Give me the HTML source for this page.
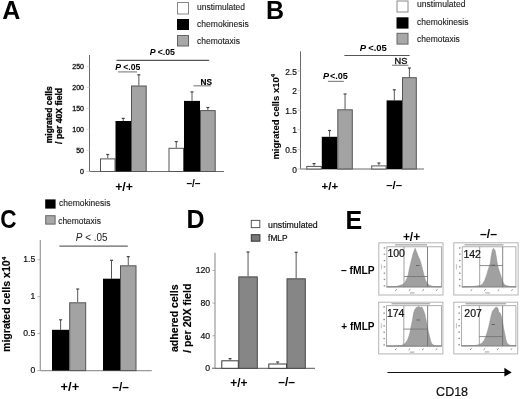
<!DOCTYPE html>
<html><head><meta charset="utf-8"><style>
html,body{margin:0;padding:0;background:#fff;}
svg{display:block;font-family:"Liberation Sans", sans-serif;will-change:transform;filter:blur(0.3px);}
</style></head><body>
<svg width="520" height="399" viewBox="0 0 520 399" font-family='"Liberation Sans", sans-serif'>
<rect width="520" height="399" fill="#fff"/>
<text x="2.2" y="18.8" font-size="25" font-weight="bold" text-anchor="start" fill="#000" >A</text>
<rect x="177.5" y="2.5" width="11" height="11.5" fill="#fff" stroke="#888" stroke-width="1"/>
<rect x="177" y="19" width="12" height="11" fill="#000"/>
<rect x="177.5" y="35.5" width="11" height="10.5" fill="#a8a8a8" stroke="#666" stroke-width="1"/>
<text x="197" y="9.8" font-size="8.5" font-weight="normal" text-anchor="start" fill="#1a1a1a" stroke="#1a1a1a" stroke-width="0.12" textLength="48" lengthAdjust="spacingAndGlyphs" >unstimulated</text>
<text x="197" y="26.7" font-size="8.5" font-weight="normal" text-anchor="start" fill="#1a1a1a" stroke="#1a1a1a" stroke-width="0.12" textLength="51.8" lengthAdjust="spacingAndGlyphs" >chemokinesis</text>
<text x="197" y="43.7" font-size="8.5" font-weight="normal" text-anchor="start" fill="#1a1a1a" stroke="#1a1a1a" stroke-width="0.12" textLength="43" lengthAdjust="spacingAndGlyphs" >chemotaxis</text>
<line x1="89.5" y1="55" x2="89.5" y2="171.5" stroke="#6a6a6a" stroke-width="1"/>
<line x1="89.5" y1="171.5" x2="224" y2="171.5" stroke="#6a6a6a" stroke-width="1"/>
<line x1="86.5" y1="171.5" x2="89.5" y2="171.5" stroke="#ccc" stroke-width="0.8"/>
<text x="84" y="174.0" font-size="7" font-weight="normal" text-anchor="end" fill="#111" stroke="#111" stroke-width="0.3" >0</text>
<line x1="86.5" y1="150.5" x2="89.5" y2="150.5" stroke="#ccc" stroke-width="0.8"/>
<text x="84" y="153.0" font-size="7" font-weight="normal" text-anchor="end" fill="#111" stroke="#111" stroke-width="0.3" >50</text>
<line x1="86.5" y1="129.5" x2="89.5" y2="129.5" stroke="#ccc" stroke-width="0.8"/>
<text x="84" y="132.0" font-size="7" font-weight="normal" text-anchor="end" fill="#111" stroke="#111" stroke-width="0.3" >100</text>
<line x1="86.5" y1="108.5" x2="89.5" y2="108.5" stroke="#ccc" stroke-width="0.8"/>
<text x="84" y="111.0" font-size="7" font-weight="normal" text-anchor="end" fill="#111" stroke="#111" stroke-width="0.3" >150</text>
<line x1="86.5" y1="87.5" x2="89.5" y2="87.5" stroke="#ccc" stroke-width="0.8"/>
<text x="84" y="90.0" font-size="7" font-weight="normal" text-anchor="end" fill="#111" stroke="#111" stroke-width="0.3" >200</text>
<line x1="86.5" y1="66.5" x2="89.5" y2="66.5" stroke="#ccc" stroke-width="0.8"/>
<text x="84" y="69.0" font-size="7" font-weight="normal" text-anchor="end" fill="#111" stroke="#111" stroke-width="0.3" >250</text>
<line x1="107.75" y1="158.4" x2="107.75" y2="154.5" stroke="#444" stroke-width="0.9"/>
<line x1="106.25" y1="154.5" x2="109.25" y2="154.5" stroke="#444" stroke-width="1.2"/>
<rect x="100.5" y="158.9" width="14.5" height="12.599999999999994" fill="#fff" stroke="#555" stroke-width="1"/>
<line x1="123.25" y1="121" x2="123.25" y2="118.4" stroke="#444" stroke-width="0.9"/>
<line x1="121.75" y1="118.4" x2="124.75" y2="118.4" stroke="#444" stroke-width="1.2"/>
<rect x="115.5" y="121" width="15.5" height="50.5" fill="#000"/>
<line x1="138.85" y1="85.5" x2="138.85" y2="74.8" stroke="#444" stroke-width="0.9"/>
<line x1="137.35" y1="74.8" x2="140.35" y2="74.8" stroke="#444" stroke-width="1.2"/>
<rect x="131.5" y="86.0" width="14.699999999999989" height="85.5" fill="#a3a3a3" stroke="#555" stroke-width="1"/>
<line x1="176.25" y1="147.8" x2="176.25" y2="141.6" stroke="#444" stroke-width="0.9"/>
<line x1="174.75" y1="141.6" x2="177.75" y2="141.6" stroke="#444" stroke-width="1.2"/>
<rect x="169.0" y="148.3" width="14.5" height="23.19999999999999" fill="#fff" stroke="#555" stroke-width="1"/>
<line x1="192.0" y1="100.9" x2="192.0" y2="91.9" stroke="#444" stroke-width="0.9"/>
<line x1="190.5" y1="91.9" x2="193.5" y2="91.9" stroke="#444" stroke-width="1.2"/>
<rect x="184.0" y="100.9" width="16.0" height="70.6" fill="#000"/>
<line x1="207.85" y1="110.1" x2="207.85" y2="107.5" stroke="#444" stroke-width="0.9"/>
<line x1="206.35" y1="107.5" x2="209.35" y2="107.5" stroke="#444" stroke-width="1.2"/>
<rect x="200.5" y="110.6" width="14.699999999999989" height="60.900000000000006" fill="#a3a3a3" stroke="#555" stroke-width="1"/>
<text x="115.3" y="69.7" font-size="8.5" font-weight="bold" textLength="25" lengthAdjust="spacingAndGlyphs"><tspan font-style="italic">P</tspan><tspan dx="2">&lt;.05</tspan></text>
<line x1="118" y1="71.9" x2="137" y2="71.9" stroke="#888" stroke-width="1.2"/>
<line x1="116.5" y1="60.3" x2="209.2" y2="60.3" stroke="#555" stroke-width="1.2"/>
<text x="149.8" y="55" font-size="8.5" font-weight="bold" textLength="25.2" lengthAdjust="spacingAndGlyphs"><tspan font-style="italic">P</tspan><tspan dx="2">&lt;.05</tspan></text>
<text x="200.5" y="84.6" font-size="8.7" font-weight="bold" text-anchor="start" fill="#000" stroke="#000" stroke-width="0.15" textLength="11.5" lengthAdjust="spacingAndGlyphs" >NS</text>
<line x1="193.5" y1="85.8" x2="210.8" y2="85.8" stroke="#888" stroke-width="1.2"/>
<text x="115.2" y="190.6" font-size="12" font-weight="bold" text-anchor="start" fill="#000" textLength="17.8" lengthAdjust="spacingAndGlyphs" >+/+</text>
<text x="186.4" y="186.6" font-size="10" font-weight="bold" text-anchor="start" fill="#000" textLength="14.1" lengthAdjust="spacingAndGlyphs" >–/–</text>
<text x="52.2" y="143.2" font-size="8.5" font-weight="bold" text-anchor="start" fill="#000" stroke="#000" stroke-width="0.3" textLength="56.8" lengthAdjust="spacingAndGlyphs" transform="rotate(-90 52.2 143.2)" >migrated cells</text>
<text x="62" y="143.9" font-size="8.5" font-weight="bold" text-anchor="start" fill="#000" stroke="#000" stroke-width="0.3" textLength="56" lengthAdjust="spacingAndGlyphs" transform="rotate(-90 62 143.9)" >/ per 40X field</text>
<text x="266" y="18.8" font-size="25" font-weight="bold" text-anchor="start" fill="#000" >B</text>
<rect x="397" y="1" width="11" height="11" fill="#fff" stroke="#8a8a8a" stroke-width="1"/>
<rect x="396.5" y="17.3" width="12" height="11.3" fill="#000"/>
<rect x="397" y="33.3" width="11" height="10.8" fill="#a8a8a8" stroke="#666" stroke-width="1"/>
<text x="417" y="7.3" font-size="8.5" font-weight="normal" text-anchor="start" fill="#1a1a1a" stroke="#1a1a1a" stroke-width="0.12" textLength="48.5" lengthAdjust="spacingAndGlyphs" >unstimulated</text>
<text x="417" y="24.6" font-size="8.5" font-weight="normal" text-anchor="start" fill="#1a1a1a" stroke="#1a1a1a" stroke-width="0.12" textLength="51.4" lengthAdjust="spacingAndGlyphs" >chemokinesis</text>
<text x="417" y="41.5" font-size="8.5" font-weight="normal" text-anchor="start" fill="#1a1a1a" stroke="#1a1a1a" stroke-width="0.12" textLength="42.8" lengthAdjust="spacingAndGlyphs" >chemotaxis</text>
<line x1="300.5" y1="51.3" x2="300.5" y2="169" stroke="#6a6a6a" stroke-width="1"/>
<line x1="300.5" y1="169" x2="424" y2="169" stroke="#6a6a6a" stroke-width="1"/>
<line x1="297.5" y1="169.0" x2="300.5" y2="169.0" stroke="#bbb" stroke-width="0.8"/>
<text x="296.8" y="172.6" font-size="8.4" font-weight="normal" text-anchor="end" fill="#111" stroke="#111" stroke-width="0.2" >0</text>
<line x1="297.5" y1="149.4" x2="300.5" y2="149.4" stroke="#bbb" stroke-width="0.8"/>
<text x="296.8" y="153.0" font-size="8.4" font-weight="normal" text-anchor="end" fill="#111" stroke="#111" stroke-width="0.2" >0.5</text>
<line x1="297.5" y1="129.8" x2="300.5" y2="129.8" stroke="#bbb" stroke-width="0.8"/>
<text x="296.8" y="133.4" font-size="8.4" font-weight="normal" text-anchor="end" fill="#111" stroke="#111" stroke-width="0.2" >1</text>
<line x1="297.5" y1="110.19999999999999" x2="300.5" y2="110.19999999999999" stroke="#bbb" stroke-width="0.8"/>
<text x="296.8" y="113.79999999999998" font-size="8.4" font-weight="normal" text-anchor="end" fill="#111" stroke="#111" stroke-width="0.2" >1.5</text>
<line x1="297.5" y1="90.6" x2="300.5" y2="90.6" stroke="#bbb" stroke-width="0.8"/>
<text x="296.8" y="94.19999999999999" font-size="8.4" font-weight="normal" text-anchor="end" fill="#111" stroke="#111" stroke-width="0.2" >2</text>
<line x1="297.5" y1="71.0" x2="300.5" y2="71.0" stroke="#bbb" stroke-width="0.8"/>
<text x="296.8" y="74.6" font-size="8.4" font-weight="normal" text-anchor="end" fill="#111" stroke="#111" stroke-width="0.2" >2.5</text>
<line x1="314.05" y1="165.9" x2="314.05" y2="163.6" stroke="#444" stroke-width="0.9"/>
<line x1="312.55" y1="163.6" x2="315.55" y2="163.6" stroke="#444" stroke-width="1.2"/>
<rect x="306.8" y="166.4" width="14.5" height="2.5999999999999943" fill="#fff" stroke="#555" stroke-width="1"/>
<line x1="329.55" y1="136.8" x2="329.55" y2="130.5" stroke="#444" stroke-width="0.9"/>
<line x1="328.05" y1="130.5" x2="331.05" y2="130.5" stroke="#444" stroke-width="1.2"/>
<rect x="321.8" y="136.8" width="15.5" height="32.19999999999999" fill="#000"/>
<line x1="345.05" y1="109.3" x2="345.05" y2="94" stroke="#444" stroke-width="0.9"/>
<line x1="343.55" y1="94" x2="346.55" y2="94" stroke="#444" stroke-width="1.2"/>
<rect x="337.8" y="109.8" width="14.5" height="59.2" fill="#a3a3a3" stroke="#555" stroke-width="1"/>
<line x1="378.9" y1="165.4" x2="378.9" y2="163" stroke="#444" stroke-width="0.9"/>
<line x1="377.4" y1="163" x2="380.4" y2="163" stroke="#444" stroke-width="1.2"/>
<rect x="371.7" y="165.9" width="14.399999999999977" height="3.0999999999999943" fill="#fff" stroke="#555" stroke-width="1"/>
<line x1="394.29999999999995" y1="100.4" x2="394.29999999999995" y2="89.8" stroke="#444" stroke-width="0.9"/>
<line x1="392.79999999999995" y1="89.8" x2="395.79999999999995" y2="89.8" stroke="#444" stroke-width="1.2"/>
<rect x="386.59999999999997" y="100.4" width="15.400000000000034" height="68.6" fill="#000"/>
<line x1="409.4" y1="77.2" x2="409.4" y2="68" stroke="#444" stroke-width="0.9"/>
<line x1="407.9" y1="68" x2="410.9" y2="68" stroke="#444" stroke-width="1.2"/>
<rect x="402.5" y="77.7" width="13.800000000000011" height="91.3" fill="#a3a3a3" stroke="#555" stroke-width="1"/>
<text x="323" y="78.8" font-size="8.5" font-weight="bold" textLength="24.9" lengthAdjust="spacingAndGlyphs"><tspan font-style="italic">P</tspan><tspan dx="0.8">&lt;.05</tspan></text>
<line x1="327.9" y1="81.4" x2="343.8" y2="81.4" stroke="#888" stroke-width="1.2"/>
<line x1="344.4" y1="55.5" x2="409.6" y2="55.5" stroke="#555" stroke-width="1.2"/>
<text x="359.8" y="51.2" font-size="9.3" font-weight="bold" textLength="27.1" lengthAdjust="spacingAndGlyphs"><tspan font-style="italic">P</tspan><tspan dx="2">&lt;.05</tspan></text>
<text x="394.6" y="63.8" font-size="8.7" font-weight="normal" text-anchor="start" fill="#111" stroke="#111" stroke-width="0.35" textLength="12.8" lengthAdjust="spacingAndGlyphs" >NS</text>
<line x1="392" y1="65.3" x2="408.4" y2="65.3" stroke="#888" stroke-width="1.2"/>
<text x="321.6" y="190.2" font-size="11.2" font-weight="bold" text-anchor="start" fill="#000" textLength="16.6" lengthAdjust="spacingAndGlyphs" >+/+</text>
<text x="386.2" y="188.5" font-size="10.5" font-weight="bold" text-anchor="start" fill="#000" textLength="15.8" lengthAdjust="spacingAndGlyphs" >–/–</text>
<text x="278.6" y="159.6" font-size="9" font-weight="bold" stroke="#000" stroke-width="0.1" textLength="85.6" lengthAdjust="spacingAndGlyphs" transform="rotate(-90 278.6 159.6)">migrated cells x10<tspan font-size="5.5" dy="-3.8">4</tspan></text>
<text x="0.3" y="228.2" font-size="25" font-weight="bold" text-anchor="start" fill="#000" textLength="16.3" lengthAdjust="spacingAndGlyphs" >C</text>
<rect x="45.2" y="199.4" width="10.4" height="9.2" fill="#000"/>
<rect x="45.7" y="215.7" width="9.4" height="8.4" fill="#a8a8a8" stroke="#666" stroke-width="1"/>
<text x="59" y="206" font-size="8.5" font-weight="normal" text-anchor="start" fill="#1a1a1a" stroke="#1a1a1a" stroke-width="0.12" textLength="51.4" lengthAdjust="spacingAndGlyphs" >chemokinesis</text>
<text x="58.2" y="223.8" font-size="8.5" font-weight="normal" text-anchor="start" fill="#1a1a1a" stroke="#1a1a1a" stroke-width="0.12" textLength="42.7" lengthAdjust="spacingAndGlyphs" >chemotaxis</text>
<text x="75.8" y="240.6" font-size="10.5" fill="#222" textLength="31.7" lengthAdjust="spacingAndGlyphs"><tspan font-style="italic">P</tspan> &lt; .05</text>
<line x1="59.4" y1="246.2" x2="127.8" y2="246.2" stroke="#666" stroke-width="1.2"/>
<line x1="40.3" y1="240" x2="40.3" y2="370.6" stroke="#999" stroke-width="1.2"/>
<line x1="40.3" y1="370.6" x2="151.8" y2="370.6" stroke="#999" stroke-width="1.2"/>
<line x1="37.5" y1="370.6" x2="40.3" y2="370.6" stroke="#999" stroke-width="0.8"/>
<text x="35.2" y="373.20000000000005" font-size="8.6" font-weight="normal" text-anchor="end" fill="#111" stroke="#111" stroke-width="0.2" >0</text>
<line x1="37.5" y1="333.65000000000003" x2="40.3" y2="333.65000000000003" stroke="#999" stroke-width="0.8"/>
<text x="35.2" y="336.25000000000006" font-size="8.6" font-weight="normal" text-anchor="end" fill="#111" stroke="#111" stroke-width="0.2" >0.5</text>
<line x1="37.5" y1="296.70000000000005" x2="40.3" y2="296.70000000000005" stroke="#999" stroke-width="0.8"/>
<text x="35.2" y="299.30000000000007" font-size="8.6" font-weight="normal" text-anchor="end" fill="#111" stroke="#111" stroke-width="0.2" >1</text>
<line x1="37.5" y1="259.75" x2="40.3" y2="259.75" stroke="#999" stroke-width="0.8"/>
<text x="35.2" y="262.35" font-size="8.6" font-weight="normal" text-anchor="end" fill="#111" stroke="#111" stroke-width="0.2" >1.5</text>
<line x1="60.6" y1="329.8" x2="60.6" y2="319.8" stroke="#444" stroke-width="0.9"/>
<line x1="59.1" y1="319.8" x2="62.1" y2="319.8" stroke="#444" stroke-width="1.2"/>
<rect x="52" y="329.8" width="17.200000000000003" height="40.80000000000001" fill="#000"/>
<line x1="77.7" y1="302.3" x2="77.7" y2="289" stroke="#444" stroke-width="0.9"/>
<line x1="76.2" y1="289" x2="79.2" y2="289" stroke="#444" stroke-width="1.2"/>
<rect x="69.7" y="302.8" width="16.0" height="67.80000000000001" fill="#a3a3a3" stroke="#555" stroke-width="1"/>
<line x1="111.5" y1="278.7" x2="111.5" y2="260.3" stroke="#444" stroke-width="0.9"/>
<line x1="110.0" y1="260.3" x2="113.0" y2="260.3" stroke="#444" stroke-width="1.2"/>
<rect x="103" y="278.7" width="17" height="91.90000000000003" fill="#000"/>
<line x1="128.25" y1="265.3" x2="128.25" y2="256.6" stroke="#444" stroke-width="0.9"/>
<line x1="126.75" y1="256.6" x2="129.75" y2="256.6" stroke="#444" stroke-width="1.2"/>
<rect x="120.5" y="265.8" width="15.5" height="104.80000000000001" fill="#a3a3a3" stroke="#555" stroke-width="1"/>
<text x="60.6" y="390.9" font-size="12" font-weight="bold" text-anchor="start" fill="#000" textLength="18.6" lengthAdjust="spacingAndGlyphs" >+/+</text>
<text x="112.3" y="390.5" font-size="12" font-weight="bold" text-anchor="start" fill="#000" textLength="16.5" lengthAdjust="spacingAndGlyphs" >–/–</text>
<text x="10" y="352" font-size="10" font-weight="bold" stroke="#000" stroke-width="0.15" textLength="95.2" lengthAdjust="spacingAndGlyphs" transform="rotate(-90 10 352)">migrated cells x10<tspan font-size="6" dy="-4.3">4</tspan></text>
<text x="186.6" y="228" font-size="25" font-weight="bold" text-anchor="start" fill="#000" >D</text>
<rect x="251.3" y="220.4" width="8.5" height="7.2" fill="#fff" stroke="#555" stroke-width="1"/>
<rect x="251.3" y="234.7" width="8.6" height="6.5" fill="#777" stroke="#333" stroke-width="1"/>
<text x="268.1" y="227.7" font-size="9" font-weight="normal" text-anchor="start" fill="#111" stroke="#111" stroke-width="0.2" textLength="49.6" lengthAdjust="spacingAndGlyphs" >unstimulated</text>
<text x="268.1" y="240.5" font-size="9" font-weight="normal" text-anchor="start" fill="#111" stroke="#111" stroke-width="0.2" textLength="19.4" lengthAdjust="spacingAndGlyphs" >fMLP</text>
<line x1="215" y1="252.8" x2="215" y2="368.3" stroke="#999" stroke-width="1.2"/>
<line x1="212" y1="368.3" x2="315" y2="368.3" stroke="#777" stroke-width="1.2"/>
<line x1="212.5" y1="368.3" x2="215" y2="368.3" stroke="#999" stroke-width="0.8"/>
<text x="210.2" y="371.2" font-size="8.7" font-weight="normal" text-anchor="end" fill="#111" stroke="#111" stroke-width="0.2" >0</text>
<line x1="212.5" y1="335.70000000000005" x2="215" y2="335.70000000000005" stroke="#999" stroke-width="0.8"/>
<text x="210.2" y="338.6" font-size="8.7" font-weight="normal" text-anchor="end" fill="#111" stroke="#111" stroke-width="0.2" >40</text>
<line x1="212.5" y1="303.1" x2="215" y2="303.1" stroke="#999" stroke-width="0.8"/>
<text x="210.2" y="306.0" font-size="8.7" font-weight="normal" text-anchor="end" fill="#111" stroke="#111" stroke-width="0.2" >80</text>
<line x1="212.5" y1="270.5" x2="215" y2="270.5" stroke="#999" stroke-width="0.8"/>
<text x="210.2" y="273.4" font-size="8.7" font-weight="normal" text-anchor="end" fill="#111" stroke="#111" stroke-width="0.2" >120</text>
<line x1="230.05" y1="360.3" x2="230.05" y2="358.6" stroke="#444" stroke-width="0.9"/>
<line x1="228.55" y1="358.6" x2="231.55" y2="358.6" stroke="#444" stroke-width="1.2"/>
<rect x="221.8" y="360.8" width="16.5" height="7.5" fill="#fff" stroke="#3a3a3a" stroke-width="1"/>
<line x1="248.05" y1="276.4" x2="248.05" y2="252" stroke="#444" stroke-width="0.9"/>
<line x1="246.55" y1="252" x2="249.55" y2="252" stroke="#444" stroke-width="1.2"/>
<rect x="238.8" y="276.9" width="18.5" height="91.40000000000003" fill="#868686" stroke="#484848" stroke-width="1"/>
<line x1="277.65" y1="363.5" x2="277.65" y2="362" stroke="#444" stroke-width="0.9"/>
<line x1="276.15" y1="362" x2="279.15" y2="362" stroke="#444" stroke-width="1.2"/>
<rect x="268.8" y="364.0" width="17.69999999999999" height="4.300000000000011" fill="#fff" stroke="#3a3a3a" stroke-width="1"/>
<line x1="296.15" y1="278.3" x2="296.15" y2="252.3" stroke="#444" stroke-width="0.9"/>
<line x1="294.65" y1="252.3" x2="297.65" y2="252.3" stroke="#444" stroke-width="1.2"/>
<rect x="287" y="278.8" width="18.30000000000001" height="89.5" fill="#868686" stroke="#484848" stroke-width="1"/>
<text x="230.2" y="386.8" font-size="12" font-weight="bold" text-anchor="start" fill="#000" textLength="17.3" lengthAdjust="spacingAndGlyphs" >+/+</text>
<text x="278.2" y="385.8" font-size="12" font-weight="bold" text-anchor="start" fill="#000" textLength="16.8" lengthAdjust="spacingAndGlyphs" >–/–</text>
<text x="177.6" y="352" font-size="10" font-weight="bold" text-anchor="start" fill="#000" stroke="#000" stroke-width="0.15" textLength="67.6" lengthAdjust="spacingAndGlyphs" transform="rotate(-90 177.6 352)" >adhered cells</text>
<text x="190.7" y="352.8" font-size="10" font-weight="bold" text-anchor="start" fill="#000" stroke="#000" stroke-width="0.15" textLength="69.3" lengthAdjust="spacingAndGlyphs" transform="rotate(-90 190.7 352.8)" >/ per 20X field</text>
<text x="345.5" y="228.8" font-size="25" font-weight="bold" text-anchor="start" fill="#000" >E</text>
<text x="402.9" y="241.1" font-size="12" font-weight="bold" text-anchor="start" fill="#000" textLength="17.3" lengthAdjust="spacingAndGlyphs" >+/+</text>
<text x="480" y="238" font-size="12" font-weight="bold" text-anchor="start" fill="#000" textLength="17" lengthAdjust="spacingAndGlyphs" >–/–</text>
<text x="341" y="273.8" font-size="10" font-weight="bold" text-anchor="start" fill="#000" textLength="33.6" lengthAdjust="spacingAndGlyphs" >– fMLP</text>
<text x="341.3" y="329.7" font-size="10" font-weight="bold" text-anchor="start" fill="#000" textLength="33.3" lengthAdjust="spacingAndGlyphs" >+ fMLP</text>
<rect x="378.8" y="242.8" width="64.19999999999999" height="52.19999999999999" fill="#fff" stroke="#b4b4b4" stroke-width="1"/>
<rect x="386.9" y="246.8" width="54.500000000000014" height="39.999999999999986" fill="#fff" stroke="#9a9a9a" stroke-width="0.8"/>
<rect x="395" y="244.20000000000002" width="32" height="1.3" fill="#a8a8a8"/>
<polygon points="386.8,287 392,286.8 396.1,286.5 399.5,285.6 402.9,284.4 405.1,282.2 406.8,278.8 408.3,274.3 409.6,267.5 411.3,260.8 413,254 415.1,248.2 417,252.9 418.7,257.4 419.8,259.6 421.5,265.3 422.6,269.8 424.1,275.4 425.4,279.9 427.1,283.3 429.9,285.6 433.3,286.5 441.5,287" fill="#a0a0a0" stroke="#8c8c8c" stroke-width="0.5"/>
<line x1="404" y1="246.9" x2="404" y2="287.2" stroke="#8a8a8a" stroke-width="0.8"/>
<line x1="427.5" y1="246.9" x2="427.5" y2="287.2" stroke="#666" stroke-width="0.8"/>
<line x1="404" y1="276.5" x2="427.5" y2="276.5" stroke="#707070" stroke-width="0.8"/>
<line x1="386.5" y1="286.8" x2="441.8" y2="286.8" stroke="#888" stroke-width="0.9"/>
<line x1="416" y1="265.5" x2="419.5" y2="265.5" stroke="#555" stroke-width="0.8"/>
<rect x="383.7" y="247.3" width="1.5" height="1.3" fill="#8a8a8a"/>
<rect x="383.7" y="253.6" width="1.5" height="1.3" fill="#8a8a8a"/>
<rect x="383.7" y="259.9" width="1.5" height="1.3" fill="#8a8a8a"/>
<rect x="383.7" y="266.2" width="1.5" height="1.3" fill="#8a8a8a"/>
<rect x="383.7" y="272.5" width="1.5" height="1.3" fill="#8a8a8a"/>
<rect x="383.7" y="278.79999999999995" width="1.5" height="1.3" fill="#8a8a8a"/>
<rect x="383.7" y="285.09999999999997" width="1.5" height="1.3" fill="#8a8a8a"/>
<rect x="380.90000000000003" y="264.3" width="1" height="5" fill="#c0c0c0"/>
<line x1="395.3" y1="290.8" x2="396.90000000000003" y2="289.4" stroke="#888" stroke-width="1"/>
<line x1="408.85" y1="290.8" x2="410.45000000000005" y2="289.4" stroke="#888" stroke-width="1"/>
<line x1="422.40000000000003" y1="290.8" x2="424.00000000000006" y2="289.4" stroke="#888" stroke-width="1"/>
<line x1="435.95000000000005" y1="290.8" x2="437.55000000000007" y2="289.4" stroke="#888" stroke-width="1"/>
<rect x="410.0" y="292.4" width="4.5" height="1.1" fill="#aaa"/>
<text x="387.40000000000003" y="257.4" font-size="10.4" font-weight="normal" text-anchor="start" fill="#111" stroke="#111" stroke-width="0.2" textLength="17.6" lengthAdjust="spacingAndGlyphs" >100</text>
<rect x="453.8" y="242.8" width="64.30000000000001" height="52.19999999999999" fill="#fff" stroke="#b4b4b4" stroke-width="1"/>
<rect x="462.2" y="246.8" width="53.699999999999946" height="39.999999999999986" fill="#fff" stroke="#9a9a9a" stroke-width="0.8"/>
<rect x="464.5" y="244.20000000000002" width="39.0" height="1.3" fill="#a8a8a8"/>
<polygon points="462,287 470,286.7 476.5,286.1 480.5,285.3 482.7,283.9 484.4,281 486.1,276.5 487.5,272 488.9,267.5 490.3,263 491.2,256.3 492.3,250.6 493.4,248.2 495.1,250.6 496.2,256.3 497,261.9 498.1,267.5 499.6,272 501.1,276.5 502.4,281 504.1,284.4 506.9,285.8 510.3,286.5 516,287" fill="#a0a0a0" stroke="#8c8c8c" stroke-width="0.5"/>
<line x1="479.7" y1="246.9" x2="479.7" y2="287.2" stroke="#8a8a8a" stroke-width="0.8"/>
<line x1="502.7" y1="246.9" x2="502.7" y2="287.2" stroke="#666" stroke-width="0.8"/>
<line x1="479.7" y1="265.6" x2="502.7" y2="265.6" stroke="#707070" stroke-width="0.8"/>
<line x1="461.8" y1="286.8" x2="516.3" y2="286.8" stroke="#888" stroke-width="0.9"/>
<line x1="491.5" y1="265.2" x2="495.0" y2="265.2" stroke="#555" stroke-width="0.8"/>
<rect x="459.0" y="247.3" width="1.5" height="1.3" fill="#8a8a8a"/>
<rect x="459.0" y="253.6" width="1.5" height="1.3" fill="#8a8a8a"/>
<rect x="459.0" y="259.9" width="1.5" height="1.3" fill="#8a8a8a"/>
<rect x="459.0" y="266.2" width="1.5" height="1.3" fill="#8a8a8a"/>
<rect x="459.0" y="272.5" width="1.5" height="1.3" fill="#8a8a8a"/>
<rect x="459.0" y="278.79999999999995" width="1.5" height="1.3" fill="#8a8a8a"/>
<rect x="459.0" y="285.09999999999997" width="1.5" height="1.3" fill="#8a8a8a"/>
<rect x="455.90000000000003" y="264.3" width="1" height="5" fill="#c0c0c0"/>
<line x1="470.6" y1="290.8" x2="472.20000000000005" y2="289.4" stroke="#888" stroke-width="1"/>
<line x1="484.15000000000003" y1="290.8" x2="485.75000000000006" y2="289.4" stroke="#888" stroke-width="1"/>
<line x1="497.70000000000005" y1="290.8" x2="499.30000000000007" y2="289.4" stroke="#888" stroke-width="1"/>
<line x1="511.25" y1="290.8" x2="512.85" y2="289.4" stroke="#888" stroke-width="1"/>
<rect x="485.3" y="292.4" width="4.5" height="1.1" fill="#aaa"/>
<text x="463.40000000000003" y="257.8" font-size="10.4" font-weight="normal" text-anchor="start" fill="#111" stroke="#111" stroke-width="0.2" textLength="17.6" lengthAdjust="spacingAndGlyphs" >142</text>
<rect x="378.7" y="302.2" width="64.19999999999999" height="51.69999999999999" fill="#fff" stroke="#b4b4b4" stroke-width="1"/>
<rect x="386.59999999999997" y="305.7" width="55.000000000000014" height="40.29999999999997" fill="#fff" stroke="#9a9a9a" stroke-width="0.8"/>
<rect x="391.5" y="303.1" width="38.5" height="1.3" fill="#a8a8a8"/>
<polygon points="386.5,346.2 392,346 397.3,345.8 401.8,345.3 405.1,343.6 407.4,340.2 409.1,335.7 410.2,331.2 411.3,325.5 412.5,319.9 413.6,313.1 414.7,309.8 416.4,307.5 418.7,306.4 420.4,307.5 422,306.9 423.7,310.9 424.9,314.3 426,319.9 427.1,325.5 428.2,331.2 429.4,335.7 430.5,340.2 431.6,343.6 433.9,345.3 437,346 441.7,346.2" fill="#a0a0a0" stroke="#8c8c8c" stroke-width="0.5"/>
<line x1="403.8" y1="305.8" x2="403.8" y2="346.4" stroke="#8a8a8a" stroke-width="0.8"/>
<line x1="427.6" y1="305.8" x2="427.6" y2="346.4" stroke="#666" stroke-width="0.8"/>
<line x1="403.8" y1="329.1" x2="427.6" y2="329.1" stroke="#707070" stroke-width="0.8"/>
<line x1="386.2" y1="346.0" x2="442" y2="346.0" stroke="#888" stroke-width="0.9"/>
<line x1="416.5" y1="320" x2="420.0" y2="320" stroke="#555" stroke-width="0.8"/>
<rect x="383.4" y="306.2" width="1.5" height="1.3" fill="#8a8a8a"/>
<rect x="383.4" y="312.54999999999995" width="1.5" height="1.3" fill="#8a8a8a"/>
<rect x="383.4" y="318.9" width="1.5" height="1.3" fill="#8a8a8a"/>
<rect x="383.4" y="325.25" width="1.5" height="1.3" fill="#8a8a8a"/>
<rect x="383.4" y="331.59999999999997" width="1.5" height="1.3" fill="#8a8a8a"/>
<rect x="383.4" y="337.94999999999993" width="1.5" height="1.3" fill="#8a8a8a"/>
<rect x="383.4" y="344.29999999999995" width="1.5" height="1.3" fill="#8a8a8a"/>
<rect x="380.8" y="323.35" width="1" height="5" fill="#c0c0c0"/>
<line x1="395.0" y1="350.0" x2="396.6" y2="348.59999999999997" stroke="#888" stroke-width="1"/>
<line x1="408.55" y1="350.0" x2="410.15000000000003" y2="348.59999999999997" stroke="#888" stroke-width="1"/>
<line x1="422.1" y1="350.0" x2="423.70000000000005" y2="348.59999999999997" stroke="#888" stroke-width="1"/>
<line x1="435.65" y1="350.0" x2="437.25" y2="348.59999999999997" stroke="#888" stroke-width="1"/>
<rect x="409.7" y="351.59999999999997" width="4.5" height="1.1" fill="#aaa"/>
<text x="386.90000000000003" y="317.4" font-size="10.4" font-weight="normal" text-anchor="start" fill="#111" stroke="#111" stroke-width="0.2" textLength="17.6" lengthAdjust="spacingAndGlyphs" >174</text>
<rect x="453.8" y="302.2" width="63.900000000000034" height="51.69999999999999" fill="#fff" stroke="#b4b4b4" stroke-width="1"/>
<rect x="461.59999999999997" y="305.7" width="54.29999999999997" height="40.09999999999998" fill="#fff" stroke="#9a9a9a" stroke-width="0.8"/>
<rect x="465.5" y="303.1" width="40.5" height="1.3" fill="#a8a8a8"/>
<polygon points="461.5,346 468,345.8 474.3,345.6 478.8,344.7 482.1,343 484.2,340.2 485.7,336.8 487.2,332.3 488.7,326.7 490,321 491.2,315.4 492.3,311.5 494.5,308.6 496.2,306.9 497.9,308.1 498.8,312 500.2,313.1 501.1,315.4 502.4,321 503.5,327.8 504.7,333.4 505.8,339.1 506.9,343 509.2,344.9 512,345.6 516,346" fill="#a0a0a0" stroke="#8c8c8c" stroke-width="0.5"/>
<line x1="479.3" y1="305.8" x2="479.3" y2="346.2" stroke="#8a8a8a" stroke-width="0.8"/>
<line x1="502.6" y1="305.8" x2="502.6" y2="346.2" stroke="#666" stroke-width="0.8"/>
<line x1="479.3" y1="336.6" x2="502.6" y2="336.6" stroke="#707070" stroke-width="0.8"/>
<line x1="461.2" y1="345.8" x2="516.3" y2="345.8" stroke="#888" stroke-width="0.9"/>
<line x1="491.5" y1="324.5" x2="495.0" y2="324.5" stroke="#555" stroke-width="0.8"/>
<rect x="458.4" y="306.2" width="1.5" height="1.3" fill="#8a8a8a"/>
<rect x="458.4" y="312.51666666666665" width="1.5" height="1.3" fill="#8a8a8a"/>
<rect x="458.4" y="318.8333333333333" width="1.5" height="1.3" fill="#8a8a8a"/>
<rect x="458.4" y="325.15" width="1.5" height="1.3" fill="#8a8a8a"/>
<rect x="458.4" y="331.46666666666664" width="1.5" height="1.3" fill="#8a8a8a"/>
<rect x="458.4" y="337.7833333333333" width="1.5" height="1.3" fill="#8a8a8a"/>
<rect x="458.4" y="344.09999999999997" width="1.5" height="1.3" fill="#8a8a8a"/>
<rect x="455.90000000000003" y="323.25" width="1" height="5" fill="#c0c0c0"/>
<line x1="470.0" y1="349.8" x2="471.6" y2="348.4" stroke="#888" stroke-width="1"/>
<line x1="483.55" y1="349.8" x2="485.15000000000003" y2="348.4" stroke="#888" stroke-width="1"/>
<line x1="497.1" y1="349.8" x2="498.70000000000005" y2="348.4" stroke="#888" stroke-width="1"/>
<line x1="510.65" y1="349.8" x2="512.25" y2="348.4" stroke="#888" stroke-width="1"/>
<rect x="484.7" y="351.4" width="4.5" height="1.1" fill="#aaa"/>
<text x="464.3" y="317.4" font-size="10.4" font-weight="normal" text-anchor="start" fill="#111" stroke="#111" stroke-width="0.2" textLength="17.6" lengthAdjust="spacingAndGlyphs" >207</text>
<line x1="387.5" y1="372.5" x2="505" y2="372.5" stroke="#111" stroke-width="1.1"/>
<polygon points="504.4,367.8 511.7,372.5 504.4,376.4" fill="#000"/>
<text x="436.1" y="395.5" font-size="12.3" font-weight="normal" text-anchor="start" fill="#111" stroke="#111" stroke-width="0.2" textLength="32" lengthAdjust="spacingAndGlyphs" >CD18</text>
</svg></body></html>
